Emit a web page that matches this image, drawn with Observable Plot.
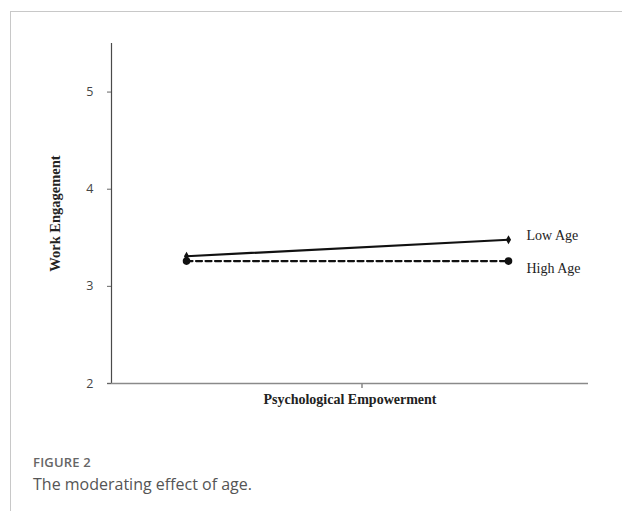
<!DOCTYPE html>
<html>
<head>
<meta charset="utf-8">
<script src="https://cdn.jsdelivr.net/npm/d3@7"></script>
<script src="https://cdn.jsdelivr.net/npm/@observablehq/plot@0.6"></script>
<style>
  html, body { margin: 0; padding: 0; background: #fff; }
  #page { position: relative; width: 622px; height: 511px; overflow: hidden; }
  #frame { position: absolute; left: 10px; top: 11px; width: 640px; height: 600px;
           border-top: 1px solid #c8c8c8; border-left: 1px solid #c8c8c8; }
  #chart { position: absolute; left: 0; top: 0; }
  #fig { position: absolute; left: 33px; top: 453px; font-family: "Open Sans", sans-serif;
         font-size: 13px; color: #666; font-weight: 600; letter-spacing: 0.2px; }
  #cap { position: absolute; left: 33px; top: 473px; font-family: "Open Sans", sans-serif;
         font-size: 16px; color: #555; font-weight: 400; }
</style>
</head>
<body>
<div id="page">
  <div id="frame"></div>
  <div id="chart"></div>
  <div id="fig">FIGURE 2</div>
  <div id="cap">The moderating effect of age.</div>
</div>
<script>
// Data
const xLevels = [-1, 1];               // low / high psychological empowerment
const lowAge  = [3.31, 3.48];
const highAge = [3.26, 3.26];
const seriesNames = ["Low Age", "High Age"];
const yTicks = [2, 3, 4, 5];
const xTicks = [0.09];

const lowData  = xLevels.map((x, i) => ({x, y: lowAge[i],  s: seriesNames[0]}));
const highData = xLevels.map((x, i) => ({x, y: highAge[i], s: seriesNames[1]}));

const serif = "'Liberation Serif', 'Times New Roman', serif";
const sans = "'Open Sans', 'Liberation Sans', sans-serif";

const chart = Plot.plot({
  width: 622,
  height: 430,
  marginLeft: 111,
  marginRight: 34,
  marginTop: 43,
  marginBottom: 47,
  style: { background: "transparent", fontFamily: sans },
  x: { type: "linear", domain: [-1.466, 1.497], axis: null },
  y: { type: "linear", domain: [2, 5.5], axis: null },
  marks: [
    // y axis line
    Plot.ruleX([-1.466], { y1: 2, y2: 5.5, stroke: "#4a4a4a", strokeWidth: 1.2 }),
    // x axis line (extends a bit left of y axis)
    Plot.ruleY([2], { x1: -1.49, x2: 1.497, stroke: "#8a8a8a", strokeWidth: 1.6 }),
    Plot.axisY(yTicks, { tickSize: 4, tickPadding: 14, stroke: "#666", color: "#444",
      fontSize: 12.5, anchor: "left", label: null, tickFormat: d => d }),
    Plot.axisX(xTicks, { tickSize: 5, stroke: "#888", strokeWidth: 1.5, tickFormat: () => "", label: null }),
    // axis titles
    Plot.text(["Psychological Empowerment"], { frameAnchor: "bottom", dy: 20, fontFamily: serif,
      fontWeight: "bold", fontSize: 14, fill: "#222" }),
    Plot.text(["Work Engagement"], { frameAnchor: "left", textAnchor: "middle", dx: -56, rotate: -90,
      fontFamily: serif, fontWeight: "bold", fontSize: 14.5, fill: "#222" }),
    // series
    Plot.line(highData, { x: "x", y: "y", stroke: "#111", strokeWidth: 2.2, strokeDasharray: "6,3.5" }),
    Plot.dot(highData, { x: "x", y: "y", r: 3.8, fill: "#111", stroke: "none" }),
    Plot.line(lowData, { x: "x", y: "y", stroke: "#111", strokeWidth: 2.2 }),
    Plot.dot(lowData, { x: "x", y: "y", r: 2.7, symbol: "diamond", fill: "#111", stroke: "none" }),
    // series labels
    Plot.text([lowData[1]], { x: "x", y: "y", text: "s", dx: 18, dy: -4, textAnchor: "start",
      fontFamily: serif, fontSize: 14, fill: "#222" }),
    Plot.text([highData[1]], { x: "x", y: "y", text: "s", dx: 18, dy: 7, textAnchor: "start",
      fontFamily: serif, fontSize: 14, fill: "#222" })
  ]
});
document.getElementById("chart").appendChild(chart);
</script>
</body>
</html>
